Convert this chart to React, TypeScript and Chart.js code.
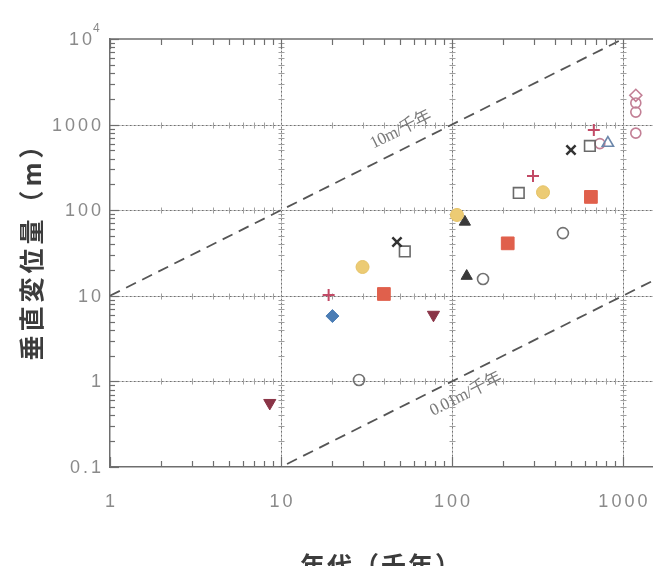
import React, { useEffect, useRef } from "react";
import { Chart, registerables } from "chart.js";

Chart.register(...registerables);

// ---- data (x: 年代 千年, y: 垂直変位量 m) ----
const maroonTriDown = [{ x: 8.6, y: 0.56 }, { x: 78, y: 6.0 }];
const redPlus = [{ x: 19, y: 10.2 }, { x: 298, y: 251 }, { x: 676, y: 865 }];
const blueDiamond = [{ x: 20, y: 5.8 }];
const yellowCircle = [{ x: 30, y: 21.7 }, { x: 107, y: 88 }, { x: 341, y: 162 }];
const grayOpenCircle = [{ x: 28.6, y: 1.04 }, { x: 152, y: 15.7 }, { x: 446, y: 54 }];
const redSquare = [{ x: 40, y: 10.5 }, { x: 212, y: 41 }, { x: 650, y: 143 }];
const blackX = [{ x: 47.7, y: 42.5 }, { x: 497, y: 505 }];
const openSquare = [{ x: 53, y: 33 }, { x: 246, y: 159 }, { x: 641, y: 563 }];
const blackTriangle = [{ x: 119, y: 73 }, { x: 122, y: 17 }];
const openTriangle = [{ x: 817, y: 609 }];
const pinkOpenCircle = [{ x: 733, y: 600 }, { x: 1190, y: 1790 }, { x: 1190, y: 1400 }, { x: 1190, y: 795 }];
const pinkDiamond = [{ x: 1190, y: 2200 }];

const rate10 = [{ x: 1, y: 10 }, { x: 1500, y: 15000 }];
const rate001 = [{ x: 1, y: 0.01 }, { x: 1500, y: 15 }];

const xTickLabels = ["1", "10", "100", "1000"];
const yTickLabels = ["0.1", "1", "10", "100", "1000", "10"];
const xMajor = [1, 10, 100, 1000];
const yMajor = [0.1, 1, 10, 100, 1000, 10000];

const minorsBetween = (lo: number, hi: number) => {
  const out: number[] = [];
  for (let e = Math.floor(Math.log10(lo)); e <= Math.ceil(Math.log10(hi)); e++) {
    for (let k = 2; k <= 9; k++) {
      const v = k * Math.pow(10, e);
      if (v > lo && v < hi) out.push(v);
    }
  }
  return out;
};

const LABEL_FONT = '18px "Liberation Sans", Arial, sans-serif';

const framePlugin = {
  id: "frame",
  beforeDatasetsDraw(chart: any) {
    const { ctx, chartArea: a, scales } = chart;
    const xs = scales.x, ys = scales.y;
    ctx.save();
    const gridV = (px: number) => { ctx.beginPath(); ctx.moveTo(px, a.top); ctx.lineTo(px, a.bottom); ctx.stroke(); };
    const gridH = (py: number) => { ctx.beginPath(); ctx.moveTo(a.left, py); ctx.lineTo(a.right, py); ctx.stroke(); };
    const xs_ = xMajor.map((v) => Math.round(xs.getPixelForValue(v)) + 0.5).filter((px) => px > a.left + 1 && px < a.right);
    const ys_ = yMajor.map((v) => Math.round(ys.getPixelForValue(v)) + 0.5).filter((py) => py < a.bottom - 1 && py > a.top + 1);
    ctx.lineWidth = 1;
    ctx.strokeStyle = "#c8c8c8";
    xs_.forEach(gridV); ys_.forEach(gridH);
    ctx.strokeStyle = "#707070";
    ctx.setLineDash([1.5, 2.5]);
    xs_.forEach(gridV); ys_.forEach(gridH);
    ctx.setLineDash([]);
    ctx.strokeStyle = "#a0a0a0";
    const yMin = minorsBetween(0.1, 10000);
    const xMin = minorsBetween(1, 1500);
    for (const px of xs_) {
      for (const m of yMin) {
        const py = Math.round(ys.getPixelForValue(m)) + 0.5;
        ctx.beginPath(); ctx.moveTo(px - 3, py); ctx.lineTo(px + 3, py); ctx.stroke();
      }
    }
    for (const py of ys_) {
      for (const m of xMin) {
        const px = Math.round(xs.getPixelForValue(m)) + 0.5;
        ctx.beginPath(); ctx.moveTo(px, py - 3); ctx.lineTo(px, py + 3); ctx.stroke();
      }
    }
    ctx.restore();
  },
  afterDatasetsDraw(chart: any) {
    const { ctx, chartArea: a, scales } = chart;
    const xs = scales.x, ys = scales.y;
    ctx.save();
    ctx.strokeStyle = "#6e6e6e";
    ctx.lineWidth = 1.5;
    ctx.beginPath(); ctx.moveTo(a.left, a.top); ctx.lineTo(a.right, a.top); ctx.stroke();
    ctx.lineWidth = 1.2;
    const xMin = minorsBetween(1, 1500);
    for (const m of xMin) {
      const px = Math.round(xs.getPixelForValue(m)) + 0.5;
      ctx.beginPath(); ctx.moveTo(px, a.bottom); ctx.lineTo(px, a.bottom - 6); ctx.stroke();
      ctx.beginPath(); ctx.moveTo(px, a.top); ctx.lineTo(px, a.top + 6); ctx.stroke();
    }
    for (const v of xMajor) {
      const px = Math.round(xs.getPixelForValue(v)) + 0.5;
      ctx.beginPath(); ctx.moveTo(px, a.bottom); ctx.lineTo(px, a.bottom - 10); ctx.stroke();
      ctx.beginPath(); ctx.moveTo(px, a.top); ctx.lineTo(px, a.top + 10); ctx.stroke();
    }
    const yMin = minorsBetween(0.1, 10000);
    for (const m of yMin) {
      const py = Math.round(ys.getPixelForValue(m)) + 0.5;
      ctx.beginPath(); ctx.moveTo(a.left, py); ctx.lineTo(a.left + 5, py); ctx.stroke();
    }
    for (const v of yMajor) {
      const py = Math.round(ys.getPixelForValue(v)) + 0.5;
      ctx.beginPath(); ctx.moveTo(a.left, py); ctx.lineTo(a.left + 9, py); ctx.stroke();
    }

    // tick labels
    ctx.fillStyle = "#8a8a8a";
    ctx.font = LABEL_FONT;
    (ctx as any).letterSpacing = "3px";
    ctx.textBaseline = "middle";
    ctx.textAlign = "center";
    xMajor.forEach((v, i) => {
      ctx.fillText(xTickLabels[i], xs.getPixelForValue(v) + 1.5, a.bottom + 35);
    });
    ctx.textAlign = "right";
    yMajor.forEach((v, i) => {
      const py = ys.getPixelForValue(v);
      if (i === yMajor.length - 1) {
        ctx.fillText(yTickLabels[i], a.left - 15, py + 1);
        (ctx as any).letterSpacing = "0px";
        ctx.font = '12px "Liberation Sans", Arial, sans-serif';
        ctx.textAlign = "left";
        ctx.fillText("4", a.left - 17, py - 10);
        ctx.font = LABEL_FONT;
        ctx.textAlign = "right";
      } else {
        ctx.fillText(yTickLabels[i], a.left - 6, py + 1);
      }
    });
    (ctx as any).letterSpacing = "0px";

    // rate-line labels
    const ang = Math.atan2(ys.getPixelForValue(1) - ys.getPixelForValue(10), xs.getPixelForValue(10) - xs.getPixelForValue(1));
    const drawRateLabel = (text: string, xv: number, rate: number, off: number) => {
      const px = xs.getPixelForValue(xv);
      const py = ys.getPixelForValue(xv * rate);
      const nx = -Math.sin(ang) * off, ny = -Math.cos(ang) * off;
      ctx.save();
      ctx.translate(px + nx, py + ny);
      ctx.rotate(-ang);
      ctx.fillStyle = "#7a7a7a";
      ctx.font = '17px "Liberation Serif", "Noto Sans CJK JP"';
      (ctx as any).letterSpacing = "-0.5px";
      ctx.textAlign = "center";
      ctx.textBaseline = "middle";
      ctx.fillText(text, 0, 0);
      ctx.restore();
    };
    drawRateLabel("10m/千年", 56, 10, 18);
    drawRateLabel("0.01m/千年", 108, 0.01, -18);
    (ctx as any).letterSpacing = "0px";

    // axis titles
    ctx.fillStyle = "#3c3c3c";
    ctx.font = 'bold 25px "Noto Sans CJK JP"';
    (ctx as any).letterSpacing = "4px";
    ctx.save();
    ctx.translate(31, 245);
    ctx.rotate(-Math.PI / 2);
    ctx.textAlign = "center";
    ctx.textBaseline = "middle";
    ctx.fillText("垂直変位量（m）", 0, 0);
    ctx.restore();
    (ctx as any).letterSpacing = "2px";
    ctx.textAlign = "center";
    ctx.textBaseline = "alphabetic";
    ctx.fillText("年代（千年）", 381, 575);
    (ctx as any).letterSpacing = "0px";
    ctx.restore();
  },
};

export default function App() {
  const ref = useRef<HTMLCanvasElement | null>(null);
  useEffect(() => {
    if (!ref.current) return;
    const pt = (data: any[], extra: any) => ({ data, showLine: false, order: 1, ...extra });
    const chart = new Chart(ref.current, {
      type: "scatter",
      data: {
        datasets: [
          { data: rate10, showLine: true, pointRadius: 0, borderColor: "#555", borderWidth: 1.8, borderDash: [11, 7], order: 5 },
          { data: rate001, showLine: true, pointRadius: 0, borderColor: "#555", borderWidth: 1.8, borderDash: [11, 7], order: 5 },
          pt(maroonTriDown, { pointStyle: "triangle", pointRotation: 180, pointRadius: 7, backgroundColor: "#8a3447", borderColor: "#8a3447", borderWidth: 1 }),
          pt(redPlus, { pointStyle: "cross", pointRadius: 6, borderColor: "#c24a66", borderWidth: 2 }),
          pt(blueDiamond, { pointStyle: "rectRot", pointRadius: 6.5, backgroundColor: "#4b7db5", borderColor: "#4b7db5", borderWidth: 1 }),
          pt(yellowCircle, { pointStyle: "circle", pointRadius: 6.5, backgroundColor: "#eccb74", borderColor: "#e5c266", borderWidth: 1 }),
          pt(grayOpenCircle, { pointStyle: "circle", pointRadius: 5.5, backgroundColor: "rgba(255,255,255,0)", borderColor: "#727272", borderWidth: 1.6 }),
          pt(redSquare, { pointStyle: "rect", pointRadius: 9, backgroundColor: "#e0604c", borderColor: "#e0604c", borderWidth: 1 }),
          pt(blackX, { pointStyle: "crossRot", pointRadius: 6.5, borderColor: "#333", borderWidth: 2.5 }),
          pt(openSquare, { pointStyle: "rect", pointRadius: 7.5, backgroundColor: "rgba(255,255,255,0)", borderColor: "#6a6a6a", borderWidth: 1.6 }),
          pt(blackTriangle, { pointStyle: "triangle", pointRadius: 6.5, backgroundColor: "#3a3a3a", borderColor: "#3a3a3a", borderWidth: 1 }),
          pt(openTriangle, { pointStyle: "triangle", pointRadius: 6.5, backgroundColor: "rgba(255,255,255,0)", borderColor: "#6b86aa", borderWidth: 1.6 }),
          pt(pinkOpenCircle, { pointStyle: "circle", pointRadius: 5, backgroundColor: "rgba(255,255,255,0)", borderColor: "#c27f95", borderWidth: 1.6 }),
          pt(pinkDiamond, { pointStyle: "rectRot", pointRadius: 6, backgroundColor: "rgba(255,255,255,0)", borderColor: "#c27f95", borderWidth: 1.6 }),
        ],
      },
      options: {
        responsive: false,
        animation: false,
        events: [],
        layout: { autoPadding: false, padding: { top: 39, left: 0, right: 0, bottom: 0 } },
        plugins: { legend: { display: false }, tooltip: { enabled: false } },
        scales: {
          x: {
            type: "logarithmic",
            min: 1,
            max: 1500,
            afterFit: (s: any) => { s.height = 99; s.paddingLeft = 0; s.paddingRight = 0; },
            grid: { display: false, drawTicks: false },
            border: { display: true, color: "#6e6e6e", width: 1.5 },
            ticks: { display: false },
          },
          y: {
            type: "logarithmic",
            min: 0.1,
            max: 10000,
            afterFit: (s: any) => { s.width = 110; s.paddingTop = 0; s.paddingBottom = 0; },
            grid: { display: false, drawTicks: false },
            border: { display: true, color: "#6e6e6e", width: 1.5 },
            ticks: { display: false },
          },
        },
      },
      plugins: [framePlugin],
    } as any);
    return () => chart.destroy();
  }, []);
  return (
    <div style={{ position: "fixed", left: 0, top: 0, width: 653, height: 566, background: "#fff" }}>
      <canvas ref={ref} width={653} height={566} style={{ display: "block" }} />
    </div>
  );
}
